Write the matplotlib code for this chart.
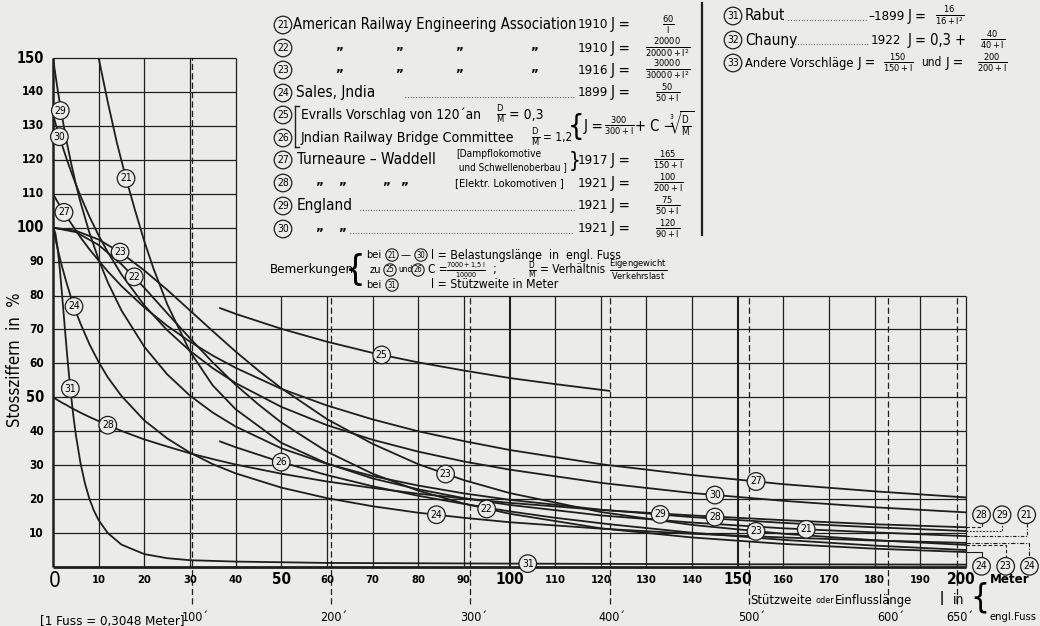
import matplotlib
matplotlib.use("Agg")
import matplotlib.pyplot as plt
from matplotlib.lines import Line2D

plt.rcParams["font.family"] = "DejaVu Sans"
plt.rcParams["font.stretch"] = "condensed"
plt.rcParams["mathtext.fontset"] = "dejavusans"
plt.rcParams["mathtext.default"] = "regular"

W, H = 1040, 626
PAPER = "#ebebe9"
INK = "#1e1e1e"

# ---- curves: span in metres -> impact factor in % ----
X_21 = [10, 12, 14, 16, 18, 20, 22, 25, 30, 35, 40, 50, 60, 70, 80, 90, 100, 120, 140, 160, 180, 200]
J_21 = [150, 137, 125, 114.5, 105, 96, 88, 77.5, 63.5, 53.5, 46.5, 36.6, 30.5, 26.1, 22.9, 20.3, 18.3, 15.2, 13.1, 11.4, 10.2, 9.1]

X_SQ = [0, 5, 10, 15, 20, 25, 30, 35, 40, 45, 50, 60, 70, 80, 90, 100, 120, 140, 160, 180, 200]
J_22 = [100, 98.7, 94.9, 89.2, 82.3, 74.8, 67.4, 60.3, 53.7, 47.9, 42.6, 34.0, 27.5, 22.5, 18.7, 15.7, 11.4, 8.7, 6.8, 5.4, 4.4]
J_23 = [100, 99.1, 96.5, 92.5, 87.4, 81.7, 75.6, 69.5, 63.5, 57.9, 52.7, 43.6, 36.3, 30.3, 25.6, 21.8, 16.2, 12.4, 9.8, 7.9, 6.5]

X_HYP = [0, 1, 2, 3, 4, 5, 6, 8, 10, 12, 15, 20, 25, 30, 35, 40, 50, 60, 70, 80, 90, 100, 120, 140, 160, 180, 200]
J_24 = [100, 93.8, 88.4, 83.6, 79.2, 75.3, 71.8, 65.6, 60.4, 55.9, 50.4, 43.2, 37.9, 33.7, 30.3, 27.6, 23.4, 20.3, 17.9, 16.0, 14.5, 13.2, 11.3, 9.8, 8.7, 7.8, 7.1]
J_27 = [110, 107.6, 105.4, 103.2, 101.2, 99.2, 97.2, 93.6, 90.3, 87.1, 82.8, 76.5, 71.1, 66.4, 62.3, 58.7, 52.5, 47.6, 43.5, 40.0, 37.1, 34.5, 30.3, 27.1, 24.4, 22.3, 20.5]
J_28 = [50.0, 49.2, 48.4, 47.7, 46.9, 46.2, 45.5, 44.2, 43.0, 41.8, 40.1, 37.6, 35.5, 33.5, 31.8, 30.2, 27.5, 25.2, 23.3, 21.6, 20.2, 18.9, 16.8, 15.2, 13.8, 12.6, 11.7]
J_29 = [150, 140.8, 132.6, 125.3, 118.8, 112.9, 107.6, 98.4, 90.6, 83.9, 75.6, 64.9, 56.8, 50.5, 45.5, 41.4, 35.0, 30.4, 26.8, 24.0, 21.7, 19.8, 16.9, 14.7, 13.0, 11.7, 10.6]
J_30 = [133.3, 128.6, 124.3, 120.2, 116.4, 112.8, 109.4, 103.2, 97.7, 92.8, 86.2, 77.1, 69.8, 63.7, 58.6, 54.2, 47.2, 41.8, 37.5, 34.0, 31.1, 28.7, 24.8, 21.8, 19.5, 17.6, 16.1]

X_25 = [36.6, 40, 50, 60, 70, 80, 90, 100, 110, 121.9]
J_25 = [76.3, 74.6, 70.2, 66.4, 63.1, 60.3, 57.9, 55.7, 53.9, 51.9]
X_26 = [36.6, 40, 50, 60, 70, 80, 90, 100, 110, 121.9, 140, 160, 180, 200]
J_26 = [37.0, 35.3, 30.9, 27.1, 23.8, 21.0, 18.6, 16.4, 14.5, 12.6, 10.1, 8.0, 6.3, 5.0]

X_31 = [0, 0.5, 1, 1.5, 2, 2.5, 3, 3.5, 4, 4.5, 5, 6, 7, 8, 9, 10, 12, 15, 20, 25, 30, 40, 60, 100, 150, 200]
J_31 = [100, 98.5, 94.1, 87.7, 80.0, 71.9, 64.0, 56.6, 50.0, 44.1, 39.0, 30.8, 24.6, 20.0, 16.5, 13.8, 10.0, 6.6, 3.8, 2.6, 2.0, 1.6, 1.2, 1.0, 0.8, 0.7]

CURVES = [(X_21, J_21), (X_SQ, J_22), (X_SQ, J_23), (X_HYP, J_24), (X_25, J_25), (X_26, J_26),
          (X_HYP, J_27), (X_HYP, J_28), (X_HYP, J_29), (X_HYP, J_30), (X_31, J_31)]

# circled curve numbers sitting on the curves
MARK_NUM = ["21", "29", "30", "27", "23", "22", "24", "31", "28", "25", "26", "23", "24", "22", "31",
            "27", "30", "29", "28", "23", "21"]
MARK_X = [16, 1.6, 1.4, 2.4, 14.7, 17.8, 4.6, 3.8, 12, 72, 50, 86, 84, 95, 104, 154, 145, 133, 145, 154, 165]
MARK_Y = [114.5, 134.5, 126.8, 104.5, 92.8, 85.5, 76.8, 52.6, 41.8, 62.5, 30.9, 27.4, 15.4, 17.1, 1.0,
          25.2, 21.2, 15.5, 14.7, 10.5, 11.1]

# labels at the right end, joined to the curve ends by leaders
END_NUM = ["28", "29", "21", "24", "23", "24"]
END_LEVEL = [11.7, 10.6, 9.1, 4.4, 6.5, 7.1]
END_X = [203.4, 207.9, 213.3, 203.4, 208.7, 213.9]
END_Y = [15.4, 15.4, 15.4, 0.2, 0.2, 0.2]
END_STYLE = [(0, (3, 2)), (0, (1.5, 1.5)), (0, (3, 1.5, 1, 1.5)), "-", (0, (3, 2)), (0, (4, 1.5, 1, 1.5))]

X_TICKS = list(range(0, 210, 10))
Y_TICKS = list(range(10, 160, 10))
FEET = [100, 200, 300, 400, 500, 600, 650]
FOOT_M = 0.3048

fig = plt.figure(figsize=(W / 100, H / 100), dpi=100, facecolor=PAPER)
ax = fig.add_axes([53 / W, 1 - 567 / H, (966 - 53) / W, (567 - 58) / H])
ax.set_xlim(0, 200)
ax.set_ylim(0, 150)
ax.axis("off")


def seg(xs, ys, lw=0.9, ls="-", **kw):
    ax.plot(xs, ys, color=INK, lw=lw, ls=ls, clip_on=False, solid_capstyle="butt", **kw)


# grid: full height up to 40 m, then only up to 80 %
LEFT_END, LOW_TOP = 40, 80
for gx in X_TICKS:
    top = 150 if gx <= LEFT_END else LOW_TOP
    lw = 1.5 if gx in (100, 150) else 0.9
    if gx > 0:
        seg([gx, gx], [0, top], lw=lw)
for gy in Y_TICKS:
    seg([0, LEFT_END if gy > LOW_TOP else 200], [gy, gy])
seg([0, 200], [0, 0], lw=2.0)
seg([0, 0], [0, 150], lw=1.8)

for feet in FEET:
    xm = feet * FOOT_M
    seg([xm, xm], [-11, 150 if feet == 100 else LOW_TOP], lw=0.9, ls=(0, (5, 2.5)))
    ax.text(xm + 0.6, -15, f"{feet}\u00b4", ha="center", va="center", fontsize=9)

# curves
for xs, ys in CURVES:
    ax.plot(xs, ys, color=INK, lw=1.3, solid_joinstyle="round")

circ = dict(boxstyle="circle,pad=0.28", fc=PAPER, ec=INK, lw=0.9)
circ_small = dict(boxstyle="circle,pad=0.22", fc=PAPER, ec=INK, lw=0.8)
for s, x, y in zip(MARK_NUM, MARK_X, MARK_Y):
    ax.text(x, y, s, ha="center", va="center", fontsize=7.5, bbox=circ, zorder=5)

for s, lvl, x, y, ls in zip(END_NUM, END_LEVEL, END_X, END_Y, END_STYLE):
    ydir = 1 if y > lvl else -1
    seg([200, x, x], [lvl, lvl, y - ydir * 2.4], lw=0.8, ls=ls)
    ax.text(x, y, s, ha="center", va="center", fontsize=7.5, bbox=circ, zorder=5, clip_on=False)

# tick labels
for gx in X_TICKS:
    if gx == 0:
        ax.text(0.3, -4.0, "0", ha="center", va="center", fontsize=15)
    elif gx % 50 == 0:
        ax.text(gx - (1.0 if gx == 200 else 0), -3.8, str(gx), ha="center", va="center",
                fontsize=11, fontweight="bold")
    else:
        ax.text(gx, -3.8, str(gx), ha="center", va="center", fontsize=8, fontweight="bold")
for gy in Y_TICKS:
    big = gy % 50 == 0
    ax.text(-2, gy, str(gy), ha="right", va="center", fontsize=10.5 if big else 8.5, fontweight="bold")

ax.text(-8.3, 61, "Stossziffern  in  %", rotation=90, ha="center", va="center", fontsize=12)
ax.text(-2.8, -16, "[1 Fuss = 0,3048 Meter]", ha="left", va="center", fontsize=9.5)
ax.text(152.8, -10.0, "Stützweite", ha="left", va="center", fontsize=9.3)
ax.text(167.0, -10.0, "oder", ha="left", va="center", fontsize=6.5)
ax.text(171.2, -10.0, "Einflusslänge", ha="left", va="center", fontsize=9.3)
ax.text(194.6, -9.6, "l", ha="center", va="center", fontsize=12)
ax.text(198.4, -9.6, "in", ha="center", va="center", fontsize=10)
ax.text(203.1, -9.0, "{", ha="center", va="center", fontsize=24, fontweight="light")
ax.text(205.2, -3.6, "Meter", ha="left", va="center", fontsize=9.5, fontweight="bold")
ax.text(205.2, -14.6, "engl.Fuss", ha="left", va="center", fontsize=8)


# ---- legend block, placed in pixel coordinates ----
def ft(px, py, s, size=11, **kw):
    kw.setdefault("ha", "left")
    fig.text(px / W, 1 - py / H, s, va="center", fontsize=size, **kw)


def frac(px, py, num, den, size=9.5):
    # px is the centre of the fraction
    ft(px, py, r"$\frac{%s}{%s}$" % (num, den), size, ha="center")


def fc(px, py, s, small=False):
    fig.text(px / W, 1 - py / H, s, ha="center", va="center", fontsize=5.5 if small else 7.5,
             bbox=circ_small if small else circ)


def fline(xs, ys, lw=0.8, ls="-"):
    fig.add_artist(Line2D([x / W for x in xs], [1 - y / H for y in ys], transform=fig.transFigure,
                          color=INK, lw=lw, ls=ls))


def dots(x1, x2, py):
    fline([x1, x2], [py + 4, py + 4], lw=0.8, ls=(0, (0.6, 1.8)))


LEG_NUM = ["21", "22", "23", "24", "25", "26", "27", "28", "29", "30"]
LEG_Y = [25, 48, 70, 93, 115, 138, 160, 183, 206, 229]
LEG_YEAR = ["1910", "1910", "1916", "1899", "", "", "1917", "1921", "1921", "1921"]
LEG_NUMER = ["60", "20000", "30000", "50", "", "", "165", "100", "75", "120"]
LEG_DENOM = ["l", "20000+l^2", "30000+l^2", "50+l", "", "", "150+l", "200+l", "50+l", "90+l"]

for num, y, yr, nu, de in zip(LEG_NUM, LEG_Y, LEG_YEAR, LEG_NUMER, LEG_DENOM):
    fc(283, y, num)
    if yr:
        ft(578, y, yr, 9.5)
        ft(611, y, "J =", 11)
        frac(668, y, nu, de)

ft(293, 25, "American Railway Engineering Association", 10.6)
for y in (48, 70):
    for qx in (335, 395, 455, 530):
        ft(qx, y - 3, "\u201e", 10, fontweight="bold")
ft(296, 93, "Sales, Jndia", 11)
dots(405, 574, 93)
fline([295, 295], [106, 147], lw=1.0)
for y in (106, 147):
    fline([295, 299], [y, y], lw=1.0)
ft(301, 115, "Evralls Vorschlag von 120\u00b4an", 9.8)
ft(301, 138, "Jndian Railway Bridge Committee", 10.2)
frac(501, 115, "D", "M", 9.5)
ft(509, 115, "= 0,3", 10)
frac(536, 138, "D", "M", 9.5)
ft(543, 138, "= 1,2", 8.5)
ft(568, 127, "{", 21, fontweight="light")
ft(584, 126, "J =", 11)
frac(619, 126, "300", "300+l")
ft(635, 126, "+ C \u2212", 10.5)
ft(669, 124, r"$\sqrt[3]{\frac{D}{M}}$", 10)
ft(297, 160, "Turneaure \u2013 Waddell", 11)
ft(456, 154, "[Dampflokomotive", 7.3)
ft(456, 167, " und Schwellenoberbau ]", 7.1)
ft(569, 161, "}", 15, fontweight="light")
for qx in (315, 338, 382, 400):
    ft(qx, 180, "\u201e", 10, fontweight="bold")
ft(455, 183, "[Elektr. Lokomotiven ]", 8)
ft(297, 206, "England", 11)
dots(360, 574, 206)
for qx in (315, 338):
    ft(qx, 226, "\u201e", 10, fontweight="bold")
dots(350, 574, 229)
fline([702, 702], [3, 235], lw=1.6)

# right column
fc(733, 16, "31")
ft(745, 16, "Rabut", 11)
dots(788, 866, 16)
ft(868, 16, "\u20131899", 9.5)
ft(908, 16, "J =", 10.5)
frac(950, 16, "16", "16+l^2")
fc(733, 40, "32")
ft(745, 40, "Chauny", 11)
dots(795, 868, 40)
ft(871, 40, "1922", 9.5)
ft(908, 40, "J = 0,3 +", 10.5)
frac(993, 40, "40", "40+l")
fc(733, 63, "33")
ft(745, 63, "Andere Vorschläge", 9.3)
ft(858, 63, "J =", 10)
frac(898, 63, "150", "150+l")
ft(921, 63, "und", 8.5)
ft(946, 63, "J =", 10)
frac(992, 63, "200", "200+l")

# remarks
ft(270, 270, "Bemerkungen", 9.5)
ft(345, 270, "{", 26, fontweight="light")
ft(366, 255, "bei", 8)
fc(392, 255, "21", small=True)
ft(401, 255, "\u2014", 8)
fc(421, 255, "30", small=True)
ft(431, 255, "l = Belastungslänge  in  engl. Fuss", 8.8)
ft(370, 270, "zu", 8)
fc(390, 270, "25", small=True)
ft(398, 270, "und", 6)
fc(418, 270, "26", small=True)
ft(428, 270, "C =", 8.5)
frac(466, 270, "7000 + 1{,}5\\,l", "10000", 7.5)
ft(492, 270, ";", 9)
frac(532, 270, "D", "M", 8.5)
ft(540, 270, "= Verhältnis", 8.5)
frac(638, 270, "Eigengewicht", "Verkehrslast", 9.5)
ft(366, 285, "bei", 8)
fc(392, 285, "31", small=True)
ft(431, 285, "l = Stützweite in Meter", 8.8)

fig.savefig("out.png", dpi=100, facecolor=PAPER)
